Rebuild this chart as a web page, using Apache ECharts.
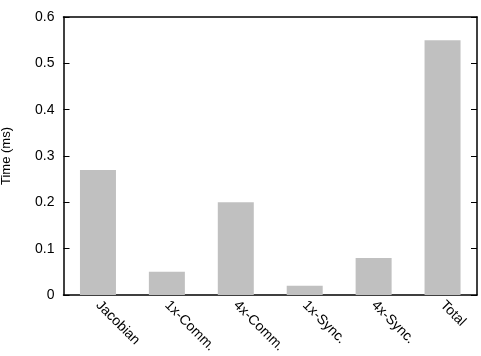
<!DOCTYPE html>
<html><head><meta charset="utf-8">
<script src="https://cdn.jsdelivr.net/npm/echarts@6/dist/echarts.min.js"></script>
<style>html,body{margin:0;padding:0;background:#fff}#c{width:481px;height:356px}</style>
</head><body><div id="c"></div>
<script>
const categories = ['Jacobian', '1x-Comm.', '4x-Comm.', '1x-Sync.', '4x-Sync.', 'Total'];
const times = [0.27, 0.05, 0.2, 0.02, 0.08, 0.55];
const yTicks = [0, 0.1, 0.2, 0.3, 0.4, 0.5, 0.6];

const chart = echarts.init(document.getElementById('c'));
const font = 'Liberation Sans, Arial, sans-serif';
chart.setOption({
  animation: false,
  grid: { left: 63.5, right: 4, top: 17, bottom: 61, containLabel: false, outerBoundsMode: 'none' },
  xAxis: [{
    type: 'category', data: categories,
    axisLine: { onZero: false, lineStyle: { color: '#000', width: 1.5 } },
    axisTick: { show: false },
    axisLabel: { rotate: -45, color: '#000', fontFamily: font, fontSize: 14, margin: 8, interval: 0 }
  }, {
    type: 'category', data: categories, position: 'top',
    axisLine: { show: true, onZero: false, lineStyle: { color: '#000', width: 1.5 } },
    axisTick: { show: false }, axisLabel: { show: false }
  }],
  yAxis: [{
    type: 'value', min: 0, max: 0.6, interval: 0.1,
    name: 'Time (ms)', nameLocation: 'middle', nameGap: 51, nameRotate: 90,
    nameTextStyle: { color: '#000', fontFamily: font, fontSize: 13 },
    axisLine: { show: true, onZero: false, lineStyle: { color: '#000', width: 1.5 } },
    axisTick: { show: true, inside: true, length: 6, lineStyle: { color: '#000' } },
    axisLabel: { color: '#000', fontFamily: font, fontSize: 14, margin: 9,
      formatter: v => { const t = yTicks.find(x => Math.abs(x - v) < 1e-9); return t === undefined ? '' : String(t); } },
    splitLine: { show: false }
  }, {
    type: 'value', min: 0, max: 0.6, interval: 0.1, position: 'right',
    axisLine: { show: true, onZero: false, lineStyle: { color: '#000', width: 1.5 } },
    axisTick: { show: true, inside: true, length: 6, lineStyle: { color: '#000' } },
    axisLabel: { show: false }, splitLine: { show: false }
  }],
  series: [{
    type: 'bar', data: times, barWidth: 36,
    itemStyle: { color: '#c0c0c0' }
  }]
});
</script></body></html>
